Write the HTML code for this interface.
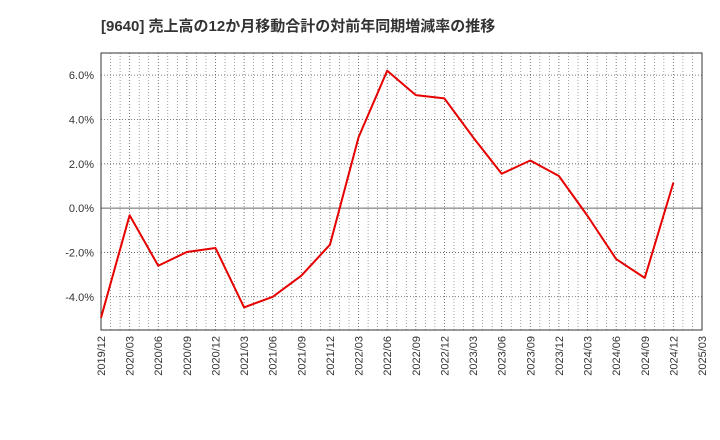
<!DOCTYPE html>
<html><head><meta charset="utf-8"><style>
body{margin:0;background:#fff;}
svg{display:block;font-family:"Liberation Sans","Noto Sans CJK JP",sans-serif;}
</style></head><body>
<svg id="c" width="720" height="440">
<text x="101" y="31" font-size="15" font-weight="bold" fill="#333">[9640]  売上高の12か月移動合計の対前年同期増減率の推移</text>
</svg>
<script>
const categories=["2019/12","2020/03","2020/06","2020/09","2020/12","2021/03","2021/06","2021/09","2021/12","2022/03","2022/06","2022/09","2022/12","2023/03","2023/06","2023/09","2023/12","2024/03","2024/06","2024/09","2024/12","2025/03"];
const values=[-4.95,-0.32,-2.6,-1.98,-1.8,-4.48,-4.0,-3.05,-1.65,3.2,6.2,5.1,4.95,3.2,1.55,2.15,1.45,-0.35,-2.3,-3.15,1.15];
const yTicks=[-4,-2,0,2,4,6];
const L=101,R=702,T=53,B=330,yMin=-5.5,yMax=7.0;
const xs=i=>L+(R-L)*i/(categories.length-1);
const ys=v=>B-(v-yMin)/(yMax-yMin)*(B-T);
const svg=document.getElementById('c');const NS='http://www.w3.org/2000/svg';
function mk(t,a){const e=document.createElementNS(NS,t);for(const k in a)e.setAttribute(k,a[k]);svg.appendChild(e);return e;}
const bg=mk('rect',{x:L,y:T,width:R-L,height:B-T,fill:'#fff',stroke:'none'});


for(let m=1;m<(categories.length-1)*3;m++){
 if(m%3===0)continue;
 const x=L+(R-L)*m/((categories.length-1)*3);
 const g=mk('line',{x1:x,x2:x,y1:T,y2:B,stroke:'#777','stroke-dasharray':'1,2','stroke-width':0.7});
 
 
}
categories.forEach((c,i)=>{
 const g=mk('line',{x1:xs(i),x2:xs(i),y1:T,y2:B,stroke:'#555','stroke-dasharray':'1,2','stroke-width':0.8});
 
 
 const t=mk('text',{x:0,y:0,'font-size':11,fill:'#333','text-anchor':'end',transform:`translate(${xs(i)+4},${B+6}) rotate(-90)`});
 t.textContent=c;
 
 
});
yTicks.forEach(v=>{
 const g=mk('line',{x1:L,x2:R,y1:ys(v),y2:ys(v),stroke:v===0?'#666':'#555','stroke-dasharray':v===0?'none':'1,2','stroke-width':v===0?1:0.8});
 
 
 const t=mk('text',{x:L-7,y:ys(v)+4,'font-size':11,fill:'#333','text-anchor':'end'});
 t.textContent=v.toFixed(1)+'%';
 
 
});
const fr=mk('rect',{x:L,y:T,width:R-L,height:B-T,fill:'none',stroke:'#333','stroke-width':1});


const line=mk('polyline',{points:values.map((v,i)=>xs(i)+','+ys(v)).join(' '),fill:'none',stroke:'#e60000','stroke-width':2,'stroke-linejoin':'round'});


</script>
</body></html>
